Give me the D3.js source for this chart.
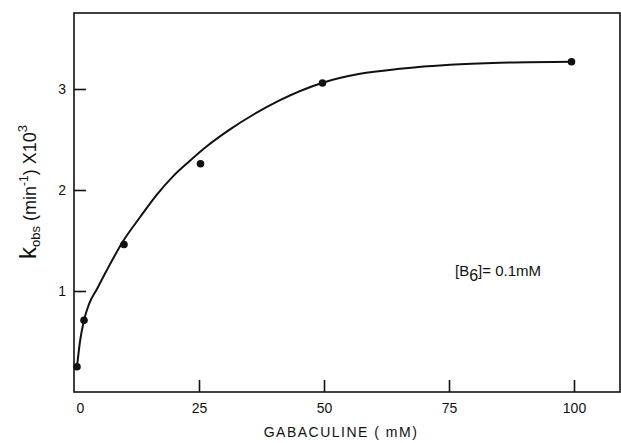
<!DOCTYPE html>
<html>
<head>
<meta charset="utf-8">
<title>kobs vs gabaculine</title>
<script src="https://d3js.org/d3.v7.min.js"></script>
<style>
  body { margin: 0; background: #fff; }
  text { font-family: "Liberation Sans", Arial, sans-serif; fill: #111; }
  .frame { fill: none; stroke: #111; stroke-width: 1.6px; }
  .curve { fill: none; stroke: #111; stroke-width: 2px; }
  .tick line { stroke: #111; stroke-width: 1.6px; }
</style>
</head>
<body>
<div id="chart"></div>
<script>
// measured points (gabaculine mM, kobs x 10^3 min^-1)
var pointX = [0.6, 2, 10, 25.3, 49.7, 99.5];
var pointY = [0.25, 0.71, 1.46, 2.26, 3.06, 3.27];

// hand-drawn fit
var curveX = [0.6, 1.2, 2, 3, 4.6, 6.5, 9.9, 13.2, 16.5, 19.9, 23.2, 26.5, 31.2, 36, 41.2, 49.6, 57.2, 65.2, 75.2, 85.2, 99.5];
var curveY = [0.25, 0.5, 0.71, 0.87, 1.02, 1.2, 1.5, 1.73, 1.95, 2.14, 2.29, 2.43, 2.6, 2.75, 2.89, 3.06, 3.15, 3.2, 3.24, 3.26, 3.27];

var xTicks = [0, 25, 50, 75, 100];
var yTicks = [1, 2, 3];

var W = 621, H = 443;
var margin = {top: 13, right: 1, bottom: 51, left: 74};
var width = W - margin.left - margin.right,
    height = H - margin.top - margin.bottom;

var x = d3.scaleLinear().domain([0, width / 5]).range([0, width]);
var y = d3.scaleLinear().domain([0, height / 101]).range([height, 0]);

var svg = d3.select("#chart").append("svg")
  .attr("width", W).attr("height", H);

var g = svg.append("g")
  .attr("transform", "translate(" + margin.left + "," + margin.top + ")");

g.append("rect").attr("class", "frame")
  .attr("x", 0).attr("y", 0).attr("width", width).attr("height", height);

// x axis, ticks pointing inward
var xa = g.append("g")
  .attr("transform", "translate(0," + height + ")")
  .call(d3.axisBottom(x).tickValues(xTicks).tickFormat(d3.format("d")).tickSize(0).tickPadding(11));
xa.select(".domain").remove();
xa.selectAll(".tick").filter(function(d) { return d > 0; }).append("line").attr("y2", -12);
xa.selectAll(".tick text").attr("font-size", 14);
xa.selectAll(".tick text").filter(function(d) { return d === 0; }).attr("x", 6);

var ya = g.append("g")
  .call(d3.axisLeft(y).tickValues(yTicks).tickFormat(d3.format("d")).tickSize(0).tickPadding(8));
ya.select(".domain").remove();
ya.selectAll(".tick").append("line").attr("x2", 12);
ya.selectAll(".tick text").attr("font-size", 14);

var line = d3.line()
  .curve(d3.curveMonotoneX)
  .x(function(d, i) { return x(curveX[i]); })
  .y(function(d, i) { return y(curveY[i]); });

g.append("path").attr("class", "curve").datum(curveX).attr("d", line);

g.selectAll(".pt").data(pointX).enter().append("circle")
  .attr("class", "pt")
  .attr("cx", function(d) { return x(d); })
  .attr("cy", function(d, i) { return y(pointY[i]); })
  .attr("r", 3.8)
  .attr("fill", "#111");

// axis titles
svg.append("text")
  .attr("x", 341).attr("y", 437)
  .attr("text-anchor", "middle").attr("font-size", 14)
  .attr("letter-spacing", "1.5px")
  .text("GABACULINE  ( mM)");

var yl = svg.append("text")
  .attr("transform", "translate(36,192) rotate(-90)")
  .attr("text-anchor", "middle").attr("font-size", 18);
yl.append("tspan").attr("font-size", 24).text("k");
yl.append("tspan").attr("font-size", 13).attr("dy", 4).text("obs");
yl.append("tspan").attr("dy", -4).text(" (min");
yl.append("tspan").attr("font-size", 12).attr("dy", -8).text("-1");
yl.append("tspan").attr("dy", 8).text(") X10");
yl.append("tspan").attr("font-size", 13).attr("dy", -9).text("3");

var note = svg.append("text")
  .attr("x", 455).attr("y", 276).attr("font-size", 15);
note.append("tspan").text("[B");
note.append("tspan").attr("font-size", 16).attr("dy", 5).text("6");
note.append("tspan").attr("dy", -5).text("]= 0.1mM");
</script>
</body>
</html>
